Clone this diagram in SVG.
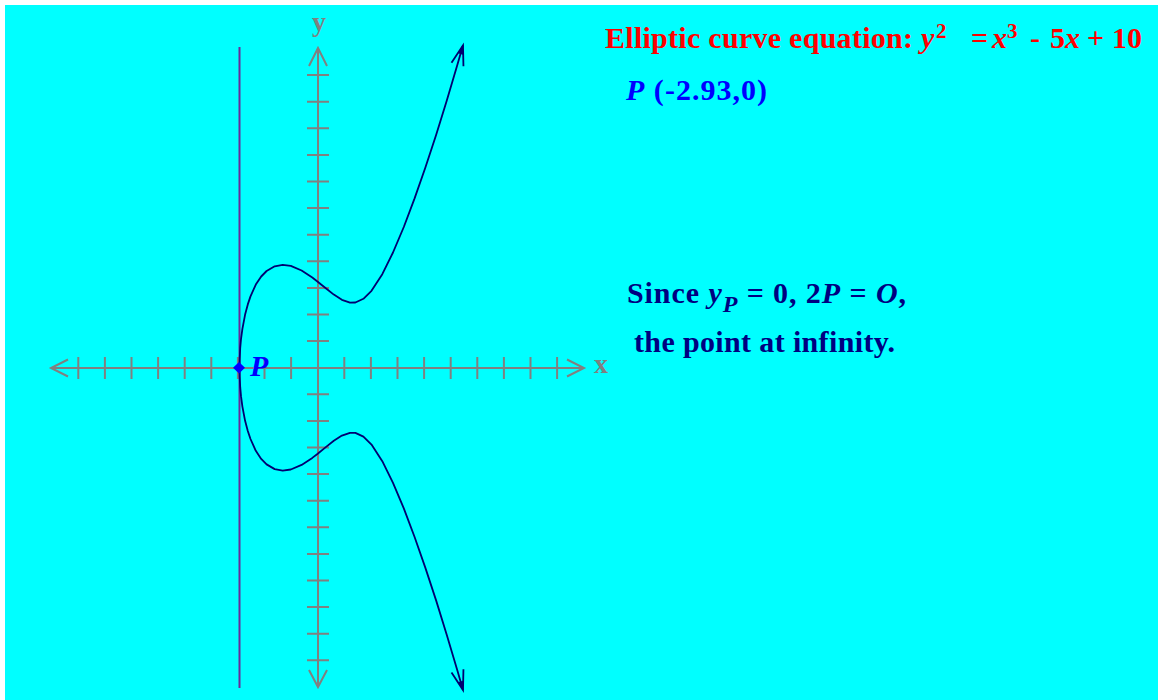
<svg xmlns="http://www.w3.org/2000/svg" width="1158" height="700" viewBox="0 0 1158 700">
<style>
.ax{stroke:#808080;stroke-width:2;fill:none}
.axl{font-family:"Liberation Serif",serif;font-weight:bold;font-size:28px;fill:#808080}
.t{font-family:"Liberation Serif",serif;font-weight:bold;font-size:30px}
.it{font-style:italic}
.curve{stroke:#000070;stroke-width:1.8;fill:none;stroke-linejoin:round}
</style>
<defs>
<marker id="arr" markerUnits="userSpaceOnUse" orient="auto-start-reverse" refX="0" refY="0" markerWidth="30" markerHeight="30" viewBox="-25 -10 30 20" overflow="visible">
<path d="M-20,-6.2 L0,0 L-20,6.2" fill="none" stroke="#000070" stroke-width="1.8"/>
<path d="M0,0 L-9,-2.6 L-9,2.6Z" fill="#000070"/>
</marker>
</defs>
<rect width="1158" height="700" fill="#ffffff"/>
<rect x="5" y="5" width="1153" height="695" fill="#00ffff"/>
<g id="axes">
<path class="ax" d="M51,368 H584 M318,48 V687"/>
<path class="ax" d="M567,359.5 L584,368 L567,376.5 M68,359.5 L51,368 L68,376.5 M309,66 L318,48 L327,66 M309,670 L318,687 L327,670"/>
<path class="ax" d="M344.3,357V379 M370.9,357V379 M397.5,357V379 M424.1,357V379 M450.7,357V379 M477.3,357V379 M503.9,357V379 M530.5,357V379 M557.1,357V379 M291.1,357V379 M264.5,357V379 M237.9,357V379 M211.3,357V379 M184.7,357V379 M158.1,357V379 M131.5,357V379 M104.9,357V379 M78.3,357V379"/>
<path class="ax" d="M307,341.1H329 M307,314.5H329 M307,287.9H329 M307,261.3H329 M307,234.7H329 M307,208.1H329 M307,181.5H329 M307,154.9H329 M307,128.3H329 M307,101.7H329 M307,75.1H329 M307,394.3H329 M307,420.9H329 M307,447.5H329 M307,474.1H329 M307,500.7H329 M307,527.3H329 M307,553.9H329 M307,580.5H329 M307,607.1H329 M307,633.7H329 M307,660.3H329"/>
<text class="axl" x="594" y="373">x</text>
<text class="axl" x="312" y="31">y</text>
</g>
<g id="vertical-line">
<line x1="239.5" y1="47" x2="239.5" y2="688" stroke="#6a2a9a" stroke-width="2"/>
</g>
<g id="curve">
<path class="curve" marker-start="url(#arr)" marker-end="url(#arr)" d="M463.0,45.3 L457.6,64.1 446.8,100.4 436.1,135.0 425.3,167.8 414.5,198.6 403.8,227.0 393.0,252.5 382.3,274.2 371.5,290.8 363.4,298.8 355.4,302.5 350.0,302.6 341.9,299.8 333.8,294.6 325.8,288.3 317.7,281.7 312.3,277.5 301.6,270.5 290.8,265.9 282.7,264.8 274.7,266.3 266.6,271.0 261.2,276.5 255.8,284.6 250.5,296.4 247.8,304.4 245.1,314.6 242.4,328.8 241.0,339.2 240.2,348.2 239.7,358.6 239.5,367.7 239.7,376.8 240.2,387.2 241.0,396.2 242.4,406.6 245.1,420.8 247.8,431.0 250.5,439.0 255.8,450.8 261.2,458.9 266.6,464.4 274.7,469.1 282.7,470.6 290.8,469.5 301.6,464.9 312.3,457.9 317.7,453.7 325.8,447.1 333.8,440.8 341.9,435.6 350.0,432.8 355.4,432.9 363.4,436.6 371.5,444.6 382.3,461.2 393.0,482.9 403.8,508.4 414.5,536.8 425.3,567.6 436.1,600.4 446.8,635.0 457.6,671.3 463.0,690.1"/>
</g>
<g id="point-P">
<polygon points="239,362 245,367.7 239,373.5 233,367.7" fill="#0000ff"/>
<text class="t it" x="250" y="376" fill="#0000ff">P</text>
</g>
<g id="equation">
<text class="t" fill="#ff0000" y="48"><tspan x="605" textLength="308" lengthAdjust="spacing">Elliptic curve equation:</tspan><tspan class="it" x="921">y</tspan><tspan x="936" y="38" font-size="21">2</tspan><tspan x="971" y="48">=</tspan><tspan class="it" x="992">x</tspan><tspan x="1007" y="38" font-size="21">3</tspan><tspan x="1030" y="48">-</tspan><tspan x="1050">5</tspan><tspan class="it">x</tspan><tspan x="1087">+</tspan><tspan x="1112">10</tspan></text>
</g>
<g id="point-coords">
<text class="t" fill="#0000ff" x="626" y="100" textLength="141" lengthAdjust="spacing"><tspan class="it">P</tspan> (-2.93,0)</text>
</g>
<g id="explanation">
<text class="t" fill="#000080" x="627" y="303" textLength="279" lengthAdjust="spacing">Since <tspan class="it">y</tspan><tspan class="it" dy="9" font-size="24">P</tspan><tspan dy="-9"> = 0, 2</tspan><tspan class="it">P</tspan> = <tspan class="it">O</tspan>,</text>
<text class="t" fill="#000080" x="634" y="352" textLength="261" lengthAdjust="spacing">the point at infinity.</text>
</g>
</svg>
